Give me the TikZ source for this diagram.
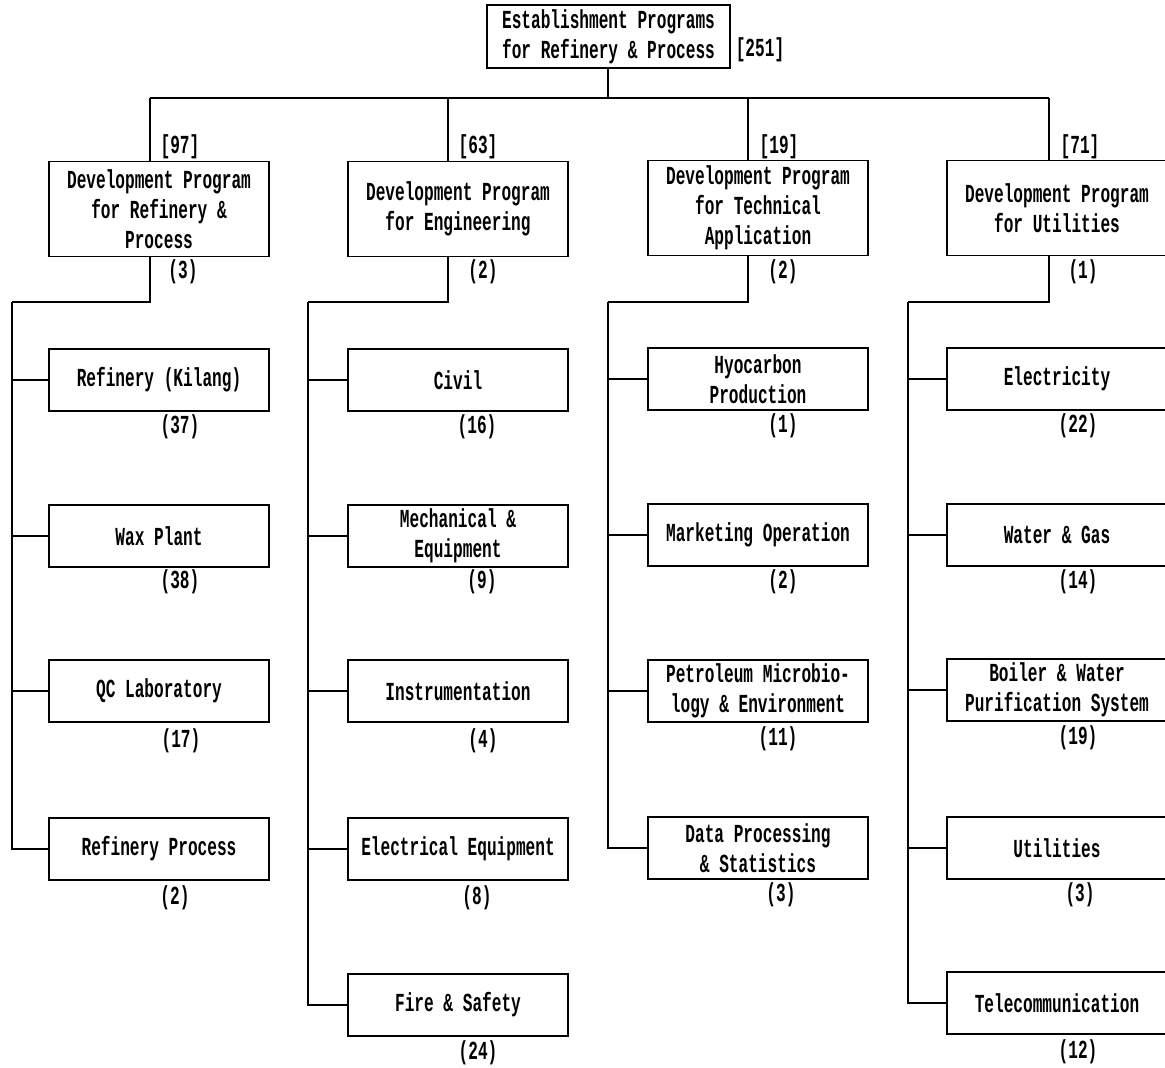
\documentclass[tikz,border=0pt]{standalone}
\usepackage{fontspec}
\newfontfamily\cfont[FakeStretch=0.62]{Liberation Mono}
\begin{document}
\begin{tikzpicture}[x=1pt,y=-1pt,
  txt/.style={font=\cfont\bfseries\fontsize{26}{30}\selectfont, inner sep=0pt},
  box/.style={txt, draw, line width=1.5pt, minimum width=220pt, inner sep=0pt, align=center},
  leaf/.style={box, minimum height=62pt},
  prog/.style={box, minimum height=95pt},
  conn/.style={line width=1.5pt}]
\useasboundingbox (0,0) rectangle (1165,1068);
% top
\node[box, minimum width=243pt, minimum height=63pt] (top) at (608.5,36.5) {Establishment Programs\\for Refinery \& Process};
\node[txt] (tot) at (760,50) {[251]};
% level 2
\node[prog] (p1) at (159,209) {Development Program\\for Refinery \&\\Process};
\node[prog] (p2) at (458,209) {Development Program\\for Engineering};
\node[prog] (p3) at (758,208) {Development Program\\for Technical\\Application};
\node[prog] (p4) at (1057,208) {Development Program\\for Utilities};
\node[txt] (n1) at (180,147) {[97]};
\node[txt] (n2) at (478,147) {[63]};
\node[txt] (n3) at (779,147) {[19]};
\node[txt] (n4) at (1080,147) {[71]};
\node[txt] (m1) at (183,272) {(3)};
\node[txt] (m2) at (483,272) {(2)};
\node[txt] (m3) at (783,272) {(2)};
\node[txt] (m4) at (1083,272) {(1)};
% bus
\coordinate (bus) at (608,98);
\coordinate (s1) at (150,98);
\coordinate (s2) at (448,98);
\coordinate (s3) at (748,98);
\coordinate (s4) at (1049,98);
\draw[conn] (top.south -| bus) -- (bus);
\draw[conn] (s1) -- (s4);
\foreach \i in {1,2,3,4} \draw[conn] (s\i) -- (s\i |- p\i.north);
% column spines
\coordinate (c1) at (12,302);
\coordinate (c2) at (308,302);
\coordinate (c3) at (608,302);
\coordinate (c4) at (908,302);
\foreach \i in {1,2,3,4} \draw[conn] (s\i |- p\i.south) |- (c\i);
% leaves col 1
\node[leaf] (a1) at (159,380) {Refinery (Kilang)};
\node[leaf] (a2) at (159,536) {Wax Plant};
\node[leaf] (a3) at (159,691) {QC Laboratory};
\node[leaf] (a4) at (159,849) {Refinery Process};
\node[txt] (ca1) at (180,427) {(37)};
\node[txt] (ca2) at (180,582) {(38)};
\node[txt] (ca3) at (181,741) {(17)};
\node[txt] (ca4) at (175,898) {(2)};
% leaves col 2
\node[leaf] (b1) at (458,380) {Civil};
\node[leaf] (b2) at (458,536) {Mechanical \&\\Equipment};
\node[leaf] (b3) at (458,691) {Instrumentation};
\node[leaf] (b4) at (458,849) {Electrical Equipment};
\node[leaf] (b5) at (458,1005) {Fire \& Safety};
\node[txt] (cb1) at (477,427) {(16)};
\node[txt] (cb2) at (482,582) {(9)};
\node[txt] (cb3) at (483,741) {(4)};
\node[txt] (cb4) at (477,898) {(8)};
\node[txt] (cb5) at (478,1053) {(24)};
% leaves col 3
\node[leaf] (d1) at (758,379) {Hyocarbon\\Production};
\node[leaf] (d2) at (758,535) {Marketing Operation};
\node[leaf] (d3) at (758,691) {Petroleum Microbio-\\logy \& Environment};
\node[leaf] (d4) at (758,848) {Data Processing\\\& Statistics};
\node[txt] (cd1) at (783,426) {(1)};
\node[txt] (cd2) at (783,582) {(2)};
\node[txt] (cd3) at (778,739) {(11)};
\node[txt] (cd4) at (781,895) {(3)};
% leaves col 4
\node[leaf] (e1) at (1057,379) {Electricity};
\node[leaf] (e2) at (1057,535) {Water \& Gas};
\node[leaf] (e3) at (1057,690) {Boiler \& Water\\Purification System};
\node[leaf] (e4) at (1057,848) {Utilities};
\node[leaf] (e5) at (1057,1003) {Telecommunication};
\node[txt] (ce1) at (1078,426) {(22)};
\node[txt] (ce2) at (1078,582) {(14)};
\node[txt] (ce3) at (1078,738) {(19)};
\node[txt] (ce4) at (1080,895) {(3)};
\node[txt] (ce5) at (1078,1052) {(12)};
% leaf connectors
\draw[conn] (c1) |- (a4.west);
\foreach \j in {1,2,3} \draw[conn] (c1 |- a\j.west) -- (a\j.west);
\draw[conn] (c2) |- (b5.west);
\foreach \j in {1,2,3,4} \draw[conn] (c2 |- b\j.west) -- (b\j.west);
\draw[conn] (c3) |- (d4.west);
\foreach \j in {1,2,3} \draw[conn] (c3 |- d\j.west) -- (d\j.west);
\draw[conn] (c4) |- (e5.west);
\foreach \j in {1,2,3,4} \draw[conn] (c4 |- e\j.west) -- (e\j.west);
\end{tikzpicture}
\end{document}
